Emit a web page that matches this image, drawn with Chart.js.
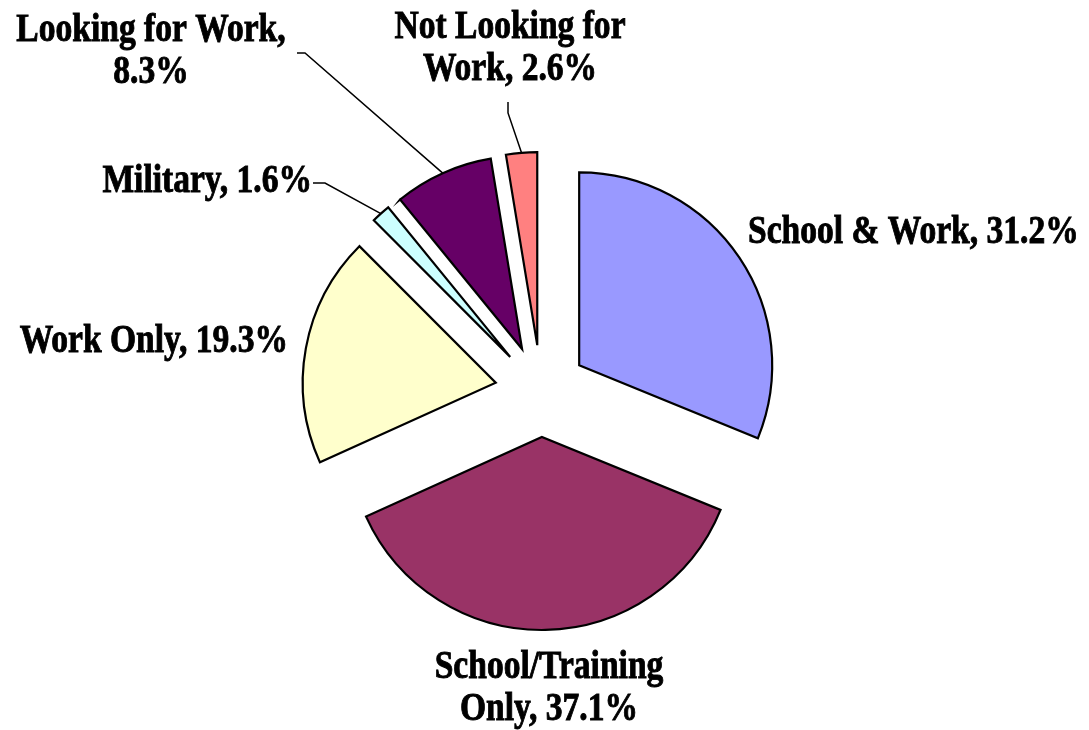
<!DOCTYPE html>
<html>
<head>
<meta charset="utf-8">
<script src="https://cdn.jsdelivr.net/npm/chart.js@4/dist/chart.umd.min.js"></script>
<style>
  html, body { margin: 0; padding: 0; background: #ffffff; }
  #wrap { width: 1089px; height: 730px; position: relative; }
</style>
</head>
<body>
<div id="wrap"><canvas id="c" width="1089" height="730"></canvas></div>
<script>
// ---- Data ----
const categories = ['School & Work', 'School/Training Only', 'Work Only', 'Military', 'Looking for Work', 'Not Looking for Work'];
const values = [31.2, 37.1, 19.3, 1.6, 8.3, 2.6];
const sliceColors = ['#9999FF', '#993366', '#FFFFCC', '#CCFFFF', '#660066', '#FF8080'];

// ---- Layout / style constants ----
const EXPLODE = 46;
const RADIUS = 193;
const FONT = 'bold 39px "Liberation Serif", "Times New Roman", serif';
const TEXT_SCALE_X = 0.86;
const LINE_H = 42;
// label placement: x, first baseline y, alignment, words before line break (0 = no break), leader start path
const labelLayout = [
  { x: 748, y: 243, align: 'left',   brk: 0, leader: null },
  { x: 549, y: 678, align: 'center', brk: 1, leader: null },
  { x: 288, y: 352, align: 'right',  brk: 0, leader: null },
  { x: 312, y: 192, align: 'right',  brk: 0, leader: [[313, 183], [325, 183]] },
  { x: 151, y: 41,  align: 'center', brk: 3, leader: [[297, 53], [305, 53]] },
  { x: 510, y: 38,  align: 'center', brk: 3, leader: [[508, 102], [508, 113]] }
];

const explodePlugin = {
  id: 'explode',
  afterDatasetsUpdate(chart) {
    const meta = chart.getDatasetMeta(0);
    meta.data.forEach(arc => {
      const mid = (arc.startAngle + arc.endAngle) / 2;
      arc.x += Math.cos(mid) * EXPLODE;
      arc.y += Math.sin(mid) * EXPLODE;
    });
  }
};

const labelPlugin = {
  id: 'sliceLabels',
  afterDraw(chart) {
    const ctx = chart.ctx;
    const meta = chart.getDatasetMeta(0);
    ctx.save();
    ctx.font = FONT;
    ctx.fillStyle = '#000000';
    ctx.strokeStyle = '#000000';
    ctx.textBaseline = 'alphabetic';
    meta.data.forEach((arc, i) => {
      const L = labelLayout[i];
      const full = categories[i] + ', ' + values[i].toFixed(1) + '%';
      let lines = [full];
      if (L.brk > 0) {
        const words = full.split(' ');
        lines = [words.slice(0, L.brk).join(' '), words.slice(L.brk).join(' ')];
      }
      lines.forEach((ln, k) => {
        ctx.save();
        ctx.translate(L.x, L.y + k * LINE_H);
        ctx.scale(TEXT_SCALE_X, 1);
        ctx.textAlign = L.align;
        ctx.lineWidth = 0.9;
        ctx.fillText(ln, 0, 0);
        ctx.strokeText(ln, 0, 0);
        ctx.restore();
      });
      if (L.leader) {
        const mid = (arc.startAngle + arc.endAngle) / 2;
        const ex = arc.x + Math.cos(mid) * arc.outerRadius;
        const ey = arc.y + Math.sin(mid) * arc.outerRadius;
        ctx.beginPath();
        ctx.lineWidth = 1.5;
        ctx.moveTo(L.leader[0][0], L.leader[0][1]);
        for (let p = 1; p < L.leader.length; p++) ctx.lineTo(L.leader[p][0], L.leader[p][1]);
        ctx.lineTo(ex, ey);
        ctx.stroke();
      }
    });
    ctx.restore();
  }
};

new Chart(document.getElementById('c'), {
  type: 'pie',
  data: {
    labels: categories,
    datasets: [{
      data: values,
      backgroundColor: sliceColors,
      borderColor: '#000000',
      borderWidth: 2.2,
      borderJoinStyle: 'miter',
      radius: RADIUS
    }]
  },
  options: {
    responsive: false,
    devicePixelRatio: 1,
    animation: false,
    layout: { padding: { top: 52, bottom: 0, left: 0, right: 7 } },
    plugins: {
      legend: { display: false },
      tooltip: { enabled: false },
      title: { display: false }
    },
    events: []
  },
  plugins: [explodePlugin, labelPlugin]
});
</script>
</body>
</html>
